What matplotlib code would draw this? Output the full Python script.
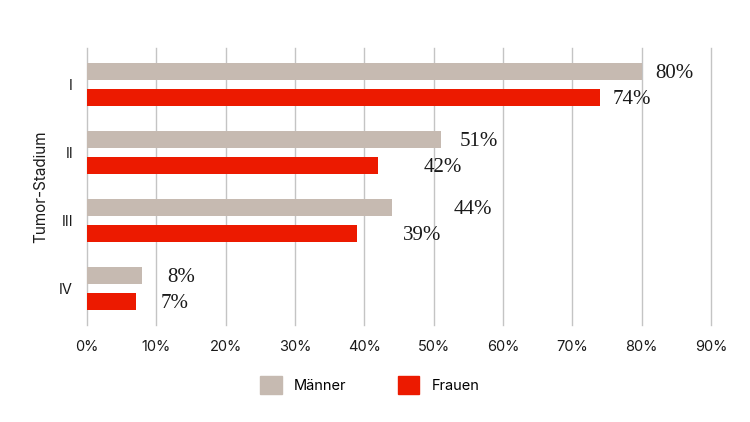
import matplotlib

matplotlib.use("Agg")
import matplotlib.pyplot as plt
from matplotlib.patches import Patch

stadien = ["I", "II", "III", "IV"]
maenner = [80, 51, 44, 8]
frauen = [74, 42, 39, 7]

farbe_m = "#C6BAB1"
farbe_f = "#EC1A00"

# Abstand der Wertebeschriftung vom Balkenende (Punkte)
abstand_m = [10, 14, 44, 18]
abstand_f = [9, 33, 33, 18]

figura = plt.figure(figsize=(7.5, 4.22), dpi=100)
eje = figura.add_axes([0.116, 0.230, 0.832, 0.656])

pos = range(len(stadien))
alto = 0.25
desp = 0.19
y_m = [p - desp for p in pos]
y_f = [p + desp for p in pos]
eje.barh(y_m, maenner, height=alto, color=farbe_m, zorder=3)
eje.barh(y_f, frauen, height=alto, color=farbe_f, zorder=3)

for y, v, d in zip(y_m, maenner, abstand_m):
    eje.annotate(f"{v}%", (v, y), xytext=(d, -1.5), textcoords="offset points",
                 va="center", ha="left", fontsize=15, family="Liberation Serif",
                 color="#1a1a1a")
for y, v, d in zip(y_f, frauen, abstand_f):
    eje.annotate(f"{v}%", (v, y), xytext=(d, -1.5), textcoords="offset points",
                 va="center", ha="left", fontsize=15, family="Liberation Serif",
                 color="#1a1a1a")

eje.set_xlim(0, 90)
eje.set_ylim(3.54, -0.53)
eje.set_xticks(range(0, 91, 10))
eje.set_xticklabels([f"{t}%" for t in range(0, 91, 10)])
eje.set_yticks(list(pos))
eje.set_yticklabels(stadien)
eje.grid(axis="x", color="#C4C4C4", linewidth=1.0, zorder=0)
for linea in eje.get_xgridlines():
    linea.set_clip_on(False)
for lado in eje.spines.values():
    lado.set_visible(False)
eje.tick_params(axis="both", length=0, labelsize=10.5, colors="#1a1a1a")
eje.tick_params(axis="x", pad=11)
eje.tick_params(axis="y", pad=10)
eje.set_ylabel("Tumor-Stadium", fontsize=11, color="#1a1a1a", labelpad=8)

for t in eje.get_xticklabels() + eje.get_yticklabels():
    t.set_family("Inter")
eje.yaxis.label.set_family("Inter")

manijas = [Patch(color=farbe_m, label="Männer"), Patch(color=farbe_f, label="Frauen")]
figura.legend(handles=manijas, loc="center", bbox_to_anchor=(0.493, 0.088), ncol=2,
              frameon=False, handlelength=1.5, handleheight=1.5, handletextpad=0.85,
              columnspacing=3.5, prop={"family": "Inter", "size": 10.5})

figura.savefig("out.png", dpi=100)
plt.close(figura)
